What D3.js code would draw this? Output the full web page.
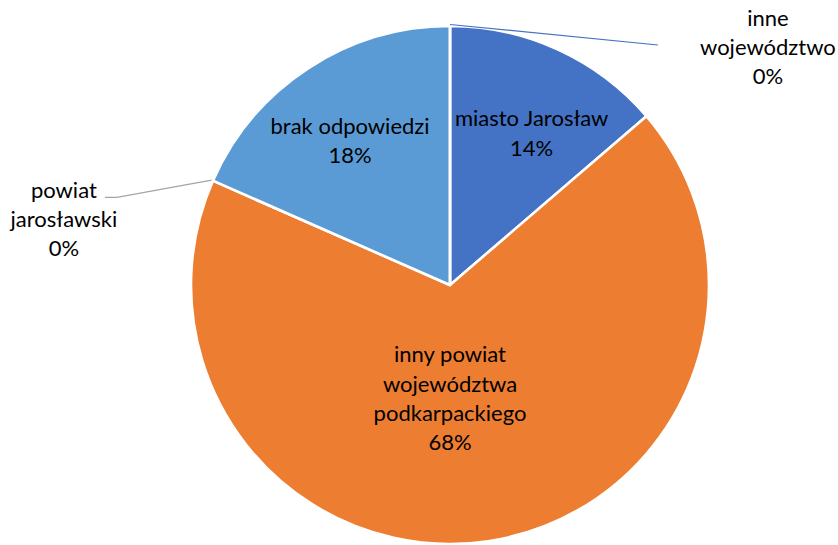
<!DOCTYPE html>
<html>
<head>
<meta charset="utf-8">
<script src="https://cdn.jsdelivr.net/npm/d3@7"></script>
<style>
  html, body { margin: 0; padding: 0; background: #fff; }
  svg { display: block; }
  text { font-family: Lato, "Open Sans", sans-serif; fill: #000; }
</style>
</head>
<body>
<svg id="chart" width="838" height="545"></svg>
<script>
// ---- data ----
const categories = ["miasto Jarosław", "inny powiat województwa podkarpackiego", "powiat jarosławski", "brak odpowiedzi", "inne województwo"];
const values = [13.7, 67.9, 0.0, 18.4, 0.0];
const labelLines = [
  ["miasto Jarosław"],
  ["inny powiat", "województwa", "podkarpackiego"],
  ["powiat", "jarosławski"],
  ["brak odpowiedzi"],
  ["inne", "województwo"]
];
const colors = ["#4472C4", "#ED7D31", "#A5A5A5", "#5B9BD5", "#4472C4"];

// label placement: polar (degrees from top, fraction of radius) for inside labels
const insideLabel = [
  {angle: 28.3, r: 0.665},
  {angle: 180, r: 0.439},
  null,
  {angle: 325.3, r: 0.678},
  null
];
// outside labels: leader elbow / label anchor in polar terms
const outsideLabel = [
  null, null,
  {elbowAngle: 284.75, elbowR: 1.33, tailLen: 12, side: -1, textDx: -41, textDy: 22},
  null,
  {elbowAngle: 40.9, elbowR: 1.226, tailLen: 0, side: 1, textDx: 110, textDy: 2.3}
];

const W = 838, H = 545;
const cx = 450, cy = 285, R = 259;
const fontSize = 22, lineH = 29.3;

const svg = d3.select("#chart");
const g = svg.append("g").attr("transform", `translate(${cx},${cy})`);

const total = d3.sum(values);
const pie = d3.pie().sort(null).value(d => d)(values);
const arc = d3.arc().innerRadius(0).outerRadius(R);

g.selectAll("path.slice")
  .data(pie)
  .join("path")
  .attr("class", "slice")
  .attr("d", arc)
  .attr("fill", (d, i) => colors[i])
  .attr("stroke", "#fff")
  .attr("stroke-width", 2.6)
  .attr("stroke-linejoin", "round");

function polar(angleDeg, r) {
  const a = angleDeg * Math.PI / 180;
  return [Math.sin(a) * r, -Math.cos(a) * r];
}

function pctText(v) { return Math.round(v / total * 100) + "%"; }

function drawLabel(x, y, lines) {
  const n = lines.length;
  const t = g.append("text")
    .attr("text-anchor", "middle")
    .attr("font-size", fontSize);
  const y0 = y - (n - 1) / 2 * lineH + fontSize * 0.35;
  lines.forEach((s, k) => {
    t.append("tspan").attr("x", x).attr("y", y0 + k * lineH).text(s);
  });
}

pie.forEach((d, i) => {
  const lines = labelLines[i].concat([pctText(values[i])]);
  if (insideLabel[i]) {
    const [x, y] = polar(insideLabel[i].angle, R * insideLabel[i].r);
    drawLabel(x, y, lines);
  } else if (outsideLabel[i]) {
    const o = outsideLabel[i];
    const midDeg = (d.startAngle + d.endAngle) / 2 * 180 / Math.PI;
    const [sx, sy] = polar(midDeg, R + 1.5);
    const [ex, ey] = polar(o.elbowAngle, R * o.elbowR);
    const tx = ex + o.side * o.tailLen;
    g.append("polyline")
      .attr("points", [[sx, sy], [ex, ey], [tx, ey]].map(p => p.join(",")).join(" "))
      .attr("fill", "none")
      .attr("stroke", colors[i])
      .attr("stroke-width", 1.2);
    drawLabel(tx + o.textDx, ey + o.textDy, lines);
  }
});
</script>
</body>
</html>
